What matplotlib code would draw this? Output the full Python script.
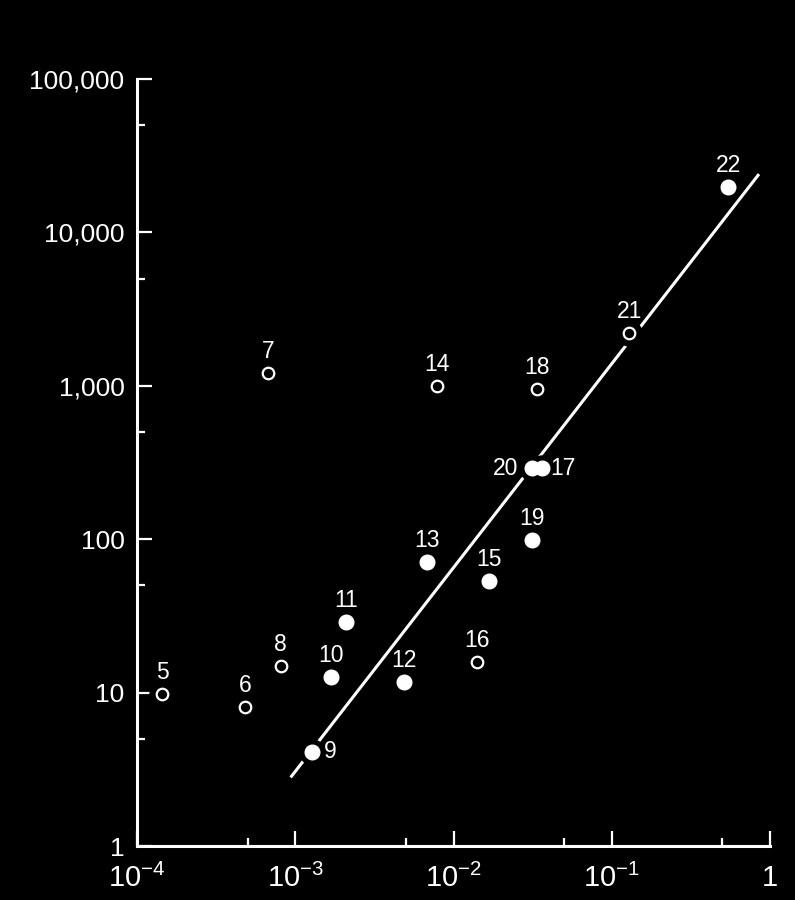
import matplotlib
matplotlib.use("Agg")
import matplotlib.pyplot as plt
from matplotlib.ticker import LogLocator, NullFormatter

plt.rcParams['font.family'] = ['Liberation Sans', 'DejaVu Sans']
plt.rcParams['mathtext.default'] = 'regular'

# numbered measurements (x, y), open = o, filled = f
point_ids = [5, 6, 7, 8, 9, 10, 11, 12, 13, 14, 15, 16, 17, 18, 19, 20, 21, 22]
x_vals = [1.44e-4, 4.8e-4, 6.7e-4, 8.1e-4, 1.28e-3, 1.69e-3, 2.09e-3, 4.86e-3, 6.8e-3,
          7.9e-3, 0.0168, 0.0141, 0.0362, 0.0337, 0.0313, 0.0313, 0.129, 0.546]
y_vals = [9.8, 8.1, 1206, 14.9, 4.1, 12.7, 29, 11.8, 71,
          1000, 53, 15.8, 291, 950, 99, 291, 2198, 19700]
kinds = ['o', 'o', 'o', 'o', 'f', 'f', 'f', 'f', 'f',
         'o', 'f', 'o', 'f', 'o', 'f', 'f', 'o', 'f']

# regression line end points
fit_x = [9.35e-4, 0.852]
fit_y = [2.8, 24000]

x_ticks = [1e-4, 1e-3, 1e-2, 1e-1, 1]
x_tick_labels = ['$10^{-4}$', '$10^{-3}$', '$10^{-2}$', '$10^{-1}$', '1']
y_ticks = [1, 10, 100, 1000, 10000, 100000]
y_tick_labels = ['1', '10', '100', '1,000', '10,000', '100,000']

# where the number sits relative to its point (offset in points)
label_offset = {9: (13, 0), 20: (-19, 0), 17: (15, 0)}

fig = plt.figure(figsize=(7.95, 9), dpi=100, facecolor='black')
ax = fig.add_axes([137 / 795, 1 - 846 / 900, (770 - 137) / 795, (846 - 79) / 900])
ax.set_facecolor('black')
ax.set_xscale('log')
ax.set_yscale('log')
ax.set_xlim(1e-4, 1)
ax.set_ylim(1, 1e5)

for side in ['top', 'right']:
    ax.spines[side].set_visible(False)
for side in ['left', 'bottom']:
    ax.spines[side].set_color('white')
    ax.spines[side].set_linewidth(2.2)

ax.plot(fit_x, fit_y, color='white', lw=2.2, zorder=2, solid_capstyle='butt')

for px, py, k in zip(x_vals, y_vals, kinds):
    # black halo so the fitted line breaks around the marker
    ax.plot(px, py, 'o', ms=18, color='black', zorder=3)
    if k == 'f':
        ax.plot(px, py, 'o', ms=10.5, mfc='white', mec='white', zorder=4)
    else:
        ax.plot(px, py, 'o', ms=8.3, mfc='black', mec='white', mew=1.6, zorder=4)

for pid, px, py in zip(point_ids, x_vals, y_vals):
    off = label_offset.get(pid, (0, 15.5))
    ax.annotate(str(pid), (px, py), xytext=off, textcoords='offset points',
                ha='center', va='center', color='white', fontsize=16.5, zorder=5)

ax.set_xticks(x_ticks)
ax.set_xticklabels(x_tick_labels)
ax.set_yticks(y_ticks)
ax.set_yticklabels(y_tick_labels)
ax.xaxis.set_minor_locator(LogLocator(base=10, subs=[5]))
ax.yaxis.set_minor_locator(LogLocator(base=10, subs=[5]))
ax.xaxis.set_minor_formatter(NullFormatter())
ax.yaxis.set_minor_formatter(NullFormatter())

ax.tick_params(which='both', direction='in', colors='white', width=1.6)
ax.tick_params(which='major', length=11)
ax.tick_params(which='minor', length=6)
ax.tick_params(axis='x', which='major', labelsize=21, pad=13)
ax.tick_params(axis='y', which='major', labelsize=19, pad=9)

plt.savefig('out.png', dpi=100, facecolor='black')
